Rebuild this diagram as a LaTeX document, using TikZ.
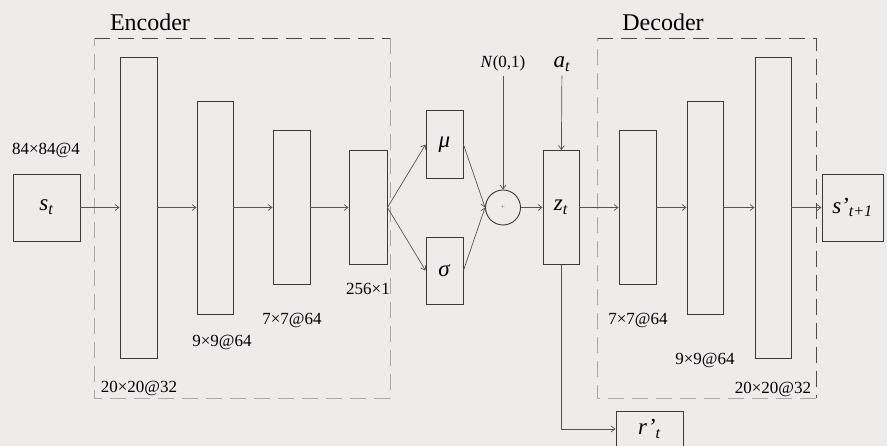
\documentclass[tikz,border=0pt]{standalone}
\usepackage{fontspec}
\setmainfont{LiberationSerif}[Extension=.ttf,UprightFont=*-Regular,ItalicFont=*-Italic,BoldFont=*-Bold,BoldItalicFont=*-BoldItalic]
\usetikzlibrary{arrows.meta,positioning}
\definecolor{bgcol}{RGB}{238,235,235}
\definecolor{edgecol}{RGB}{58,58,58}
\definecolor{linecol}{RGB}{85,85,85}
\definecolor{dashdark}{RGB}{75,75,75}
\definecolor{dashlight}{RGB}{170,170,170}
\newcommand{\vsub}[2]{\textit{#1}\textsubscript{\textit{#2}}}

\begin{document}
\begin{tikzpicture}[x=1pt,y=-1pt,
  layer/.style={draw=edgecol,line width=0.9pt,inner sep=0pt,minimum width=37pt},
  flow/.style={draw=linecol,line width=0.7pt,-{Straight Barb[length=4pt,width=6pt]}},
  dimlabel/.style={font=\fontsize{17}{20}\selectfont,inner sep=1pt},
  var/.style={font=\fontsize{23}{27}\selectfont},
  title/.style={font=\fontsize{24}{28}\selectfont},
  group/.style={line width=0.9pt,dash pattern=on 16pt off 8pt}]
  \fill[bgcol] (0,0) rectangle (887,446);
  \useasboundingbox (0,0) rectangle (887,446);

  \draw[group,dashdark] (94,38) -- (390,38);
  \draw[group,dashlight] (390,38) -- (390,398) -- (94,398) -- (94,38);
  \draw[group,dashdark] (597,38) -- (816,38) -- (816,398);
  \draw[group,dashlight] (816,398) -- (597,398) -- (597,38);
  \node[title] (enc) at (150,22) {Encoder};
  \node[title] (dec) at (663,22) {Decoder};

  \node[layer,minimum width=67pt,minimum height=67pt,var] (st) at (46.5,207.5) {\vsub{s}{t}};
  \node[layer,minimum height=301pt] (e1) at (138.5,207.5) {};
  \node[layer,minimum width=36pt,minimum height=213pt] (e2) at (215,207.5) {};
  \node[layer,minimum height=154pt] (e3) at (291.5,207.5) {};
  \node[layer,minimum width=38pt,minimum height=114pt] (e4) at (368,207.5) {};
  \node[layer,minimum height=68pt,var] (mu) at (444.5,144.5) {\textit{μ}};
  \node[layer,minimum height=67pt,var] (sig) at (444.5,270.5) {\textit{σ}};
  \node[circle,draw=edgecol,line width=0.9pt,minimum size=35pt,inner sep=0pt,
    font=\footnotesize,text=gray] (add) at (503,207.5) {+};
  \node[layer,minimum width=36pt,minimum height=114pt,var] (zt) at (561,207.5) {\vsub{z}{t}};
  \node[layer,minimum height=154pt] (d1) at (637.5,207.5) {};
  \node[layer,minimum width=36pt,minimum height=213pt] (d2) at (705,207.5) {};
  \node[layer,minimum width=36pt,minimum height=301pt] (d3) at (773,207.5) {};
  \node[layer,minimum width=61pt,minimum height=67pt,var] (sp) at (852.5,207.5) {\vsub{s'}{t+1}};
  \node[layer,minimum width=67pt,minimum height=36pt,var] (rp) at (649.5,429) {\vsub{r'}{t}};

  \node[dimlabel] (st-dim) at (46,150) {84×84@4};
  \node[dimlabel] (e1-dim) at (139,388) {20×20@32};
  \node[dimlabel] (e2-dim) at (222,342) {9×9@64};
  \node[dimlabel] (e3-dim) at (292,320) {7×7@64};
  \node[dimlabel] (e4-dim) at (368,289) {256×1};
  \node[dimlabel] (d1-dim) at (638,320) {7×7@64};
  \node[dimlabel] (d2-dim) at (705,360) {9×9@64};
  \node[dimlabel] (d3-dim) at (773,389) {20×20@32};
  \node[dimlabel,inner sep=5pt] (noise) at (503,63) {\textit{N}(0,1)};
  \node[var,inner sep=4pt] (at) at (562,64) {\vsub{a}{t}};

  \draw[flow] (st) -- (e1);
  \draw[flow] (e1) -- (e2);
  \draw[flow] (e2) -- (e3);
  \draw[flow] (e3) -- (e4);
  \draw[flow] (e4.east) -- (mu.west);
  \draw[flow] (e4.east) -- (sig.west);
  \draw[flow] (mu.east) -- (add.west);
  \draw[flow] (sig.east) -- (add.west);
  \draw[flow] (noise) -- (add);
  \draw[flow] (add) -- (zt);
  \draw[flow] (at) -- (zt);
  \draw[flow] (zt) -- (d1);
  \draw[flow] (d1) -- (d2);
  \draw[flow] (d2) -- (d3);
  \draw[flow] (d3) -- (sp);
  \draw[flow] (zt.south) |- (rp.west);
\end{tikzpicture}
\end{document}
